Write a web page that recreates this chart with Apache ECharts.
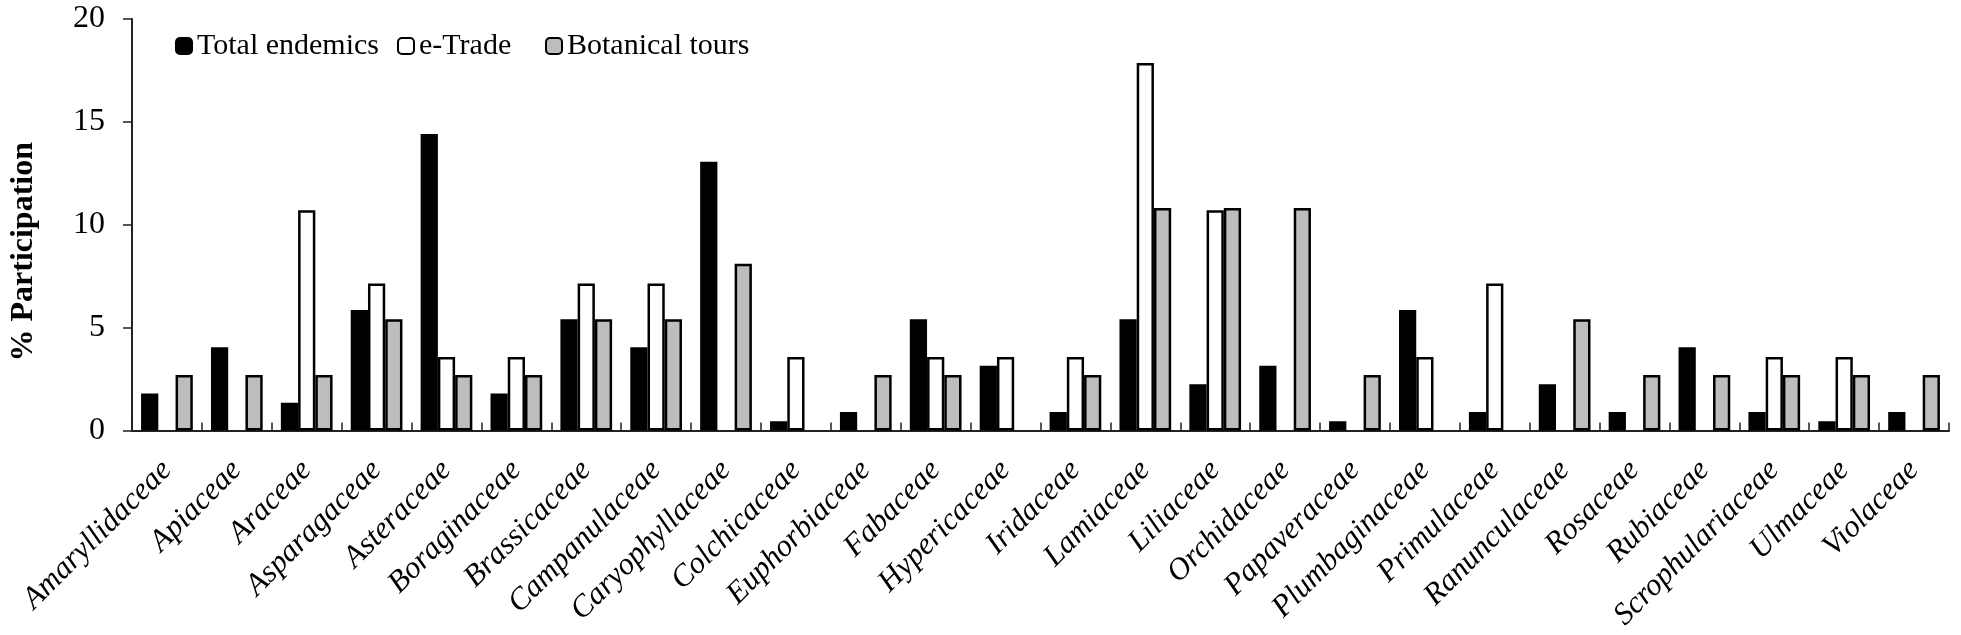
<!DOCTYPE html>
<html>
<head>
<meta charset="utf-8">
<script src="https://cdn.jsdelivr.net/npm/echarts@6/dist/echarts.min.js"></script>
<style>
html,body{margin:0;padding:0;background:#fff;}
#chart{width:1961px;height:635px;}
</style>
</head>
<body>
<div id="chart"></div>
<script>
var categories = ['Amaryllidaceae','Apiaceae','Araceae','Asparagaceae','Asteraceae','Boraginaceae','Brassicaceae','Campanulaceae','Caryophyllaceae','Colchicaceae','Euphorbiaceae','Fabaceae','Hypericaceae','Iridaceae','Lamiaceae','Liliaceae','Orchidaceae','Papaveraceae','Plumbaginaceae','Primulaceae','Ranunculaceae','Rosaceae','Rubiaceae','Scrophulariaceae','Ulmaceae','Violaceae'];
var totalEndemics = [1.80, 4.05, 1.35, 5.86, 14.41, 1.80, 5.41, 4.05, 13.06, 0.45, 0.90, 5.41, 3.15, 0.90, 5.41, 2.25, 3.15, 0.45, 5.86, 0.90, 2.25, 0.90, 4.05, 0.90, 0.45, 0.90];
var eTrade = [0, 0, 10.71, 7.14, 3.57, 3.57, 7.14, 7.14, 0, 3.57, 0, 3.57, 3.57, 3.57, 17.86, 10.71, 0, 0, 3.57, 7.14, 0, 0, 0, 3.57, 3.57, 0];
var botanicalTours = [2.70, 2.70, 2.70, 5.41, 2.70, 2.70, 5.41, 5.41, 8.11, 0, 2.70, 2.70, 0, 2.70, 10.81, 10.81, 10.81, 2.70, 0, 0, 5.41, 2.70, 2.70, 2.70, 2.70, 2.70];
var yTicks = [0, 5, 10, 15, 20];

var FONT = '"Liberation Serif", "Times New Roman", serif';
var chart = echarts.init(document.getElementById('chart'), null, {renderer: 'canvas'});

// zero values leave an empty slot (no outline drawn)
function slots(arr) { return arr.map(function (v) { return v === 0 ? null : v; }); }

function legendAt(name, left) {
  return {
    data: [name], left: left, top: 31, padding: 0, itemWidth: 16, itemHeight: 16, itemGap: 0,
    selectedMode: false,
    textStyle: {fontFamily: FONT, fontSize: 30, color: '#000', lineHeight: 30}
  };
}

var option = {
  backgroundColor: '#fff',
  animation: false,
  legend: [legendAt('Total endemics', 175), legendAt('e-Trade', 397), legendAt('Botanical tours', 545)],
  grid: {left: 132, right: 12, top: 19, bottom: 204.5, containLabel: false, outerBoundsMode: 'none'},
  xAxis: {
    type: 'category',
    data: categories,
    axisLine: {show: true, lineStyle: {color: '#222', width: 2}},
    axisTick: {show: true, inside: true, length: 8, alignWithLabel: false, lineStyle: {color: '#222', width: 1.5}},
    axisLabel: {interval: 0, rotate: 45, margin: 35, fontFamily: FONT, fontStyle: 'italic', fontSize: 31, color: '#000'},
    splitLine: {show: false}
  },
  yAxis: {
    type: 'value',
    min: yTicks[0], max: yTicks[yTicks.length - 1], interval: 5,
    name: '% Participation',
    nameLocation: 'middle',
    nameRotate: 90,
    nameGap: 92,
    nameTextStyle: {fontFamily: FONT, fontWeight: 'bold', fontSize: 32, color: '#000', padding: [0, 54, 0, 0]},
    axisLine: {show: true, lineStyle: {color: '#222', width: 2}},
    axisTick: {show: true, inside: false, length: 9, lineStyle: {color: '#222', width: 1.5}},
    axisLabel: {margin: 27, fontFamily: FONT, fontSize: 32, color: '#000'},
    splitLine: {show: false}
  },
  series: [
    {name: 'Total endemics', type: 'bar', data: slots(totalEndemics), barGap: '0%', barCategoryGap: '26%',
     itemStyle: {color: '#000', borderColor: '#000', borderWidth: 1.5}},
    {name: 'e-Trade', type: 'bar', data: slots(eTrade), barGap: '0%', barCategoryGap: '26%',
     itemStyle: {color: '#fff', borderColor: '#000', borderWidth: 2.5}},
    {name: 'Botanical tours', type: 'bar', data: slots(botanicalTours), barGap: '0%', barCategoryGap: '26%',
     itemStyle: {color: '#bdbdbd', borderColor: '#000', borderWidth: 2.5}}
  ]
};
chart.setOption(option);
</script>
</body>
</html>
